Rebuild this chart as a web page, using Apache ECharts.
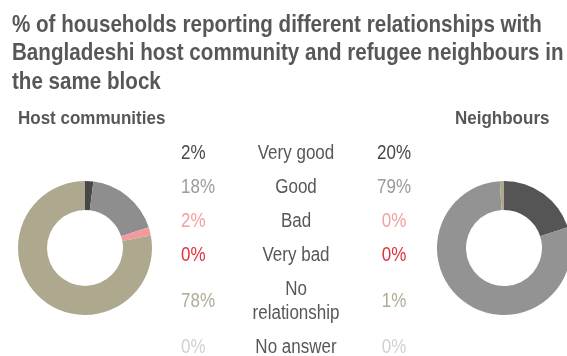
<!DOCTYPE html>
<html>
<head>
<meta charset="utf-8">
<script src="https://cdn.jsdelivr.net/npm/echarts@6/dist/echarts.min.js"></script>
<style>
html,body{margin:0;padding:0;background:#fff;}
#c{width:567px;height:356px;}
</style>
</head>
<body>
<div id="c"></div>
<script>
const titleLines = ['% of households reporting different relationships with', 'Bangladeshi host community and refugee neighbours in', 'the same block'];
const categories = ['Very good', 'Good', 'Bad', 'Very bad', 'No\nrelationship', 'No answer'];
const hostValues = [2, 18, 2, 0, 78, 0];
const neighbourValues = [20, 79, 0, 0, 1, 0];
const hostColors = ['#474747', '#8e8e8e', '#f39b9c', '#e0323c', '#aea88e', '#d2d2ce'];
const neighbourColors = ['#555555', '#939393', '#f39b9c', '#e0323c', '#aea88e', '#d2d2ce'];
const textColors = ['#474747', '#9a9a9a', '#f2a0a0', '#e0323c', '#b0ab98', '#d0d0cc'];
const rowY = [154, 188, 222, 256, 302, 348];

const chart = echarts.init(document.getElementById('c'));
const font = '"Liberation Sans", Arial, sans-serif';
const graphics = [];
const TS = 1.17, BS = 1.14;
graphics.push({type:'text', x: 12, y: 11, scaleY: TS, style:{text: titleLines.join('\n'), font: 'bold 20.6px ' + font, fill:'#575757', lineHeight: 28.5 / TS, textVerticalAlign:'top'}});
graphics.push({type:'text', x: 18, y: 119, scaleY: 1.1, style:{text:'Host communities', font:'bold 17px ' + font, fill:'#575757', textVerticalAlign:'middle'}});
graphics.push({type:'text', x: 455, y: 119, scaleY: 1.1, style:{text:'Neighbours', font:'bold 17px ' + font, fill:'#575757', textVerticalAlign:'middle'}});
categories.forEach((c, i) => {
  graphics.push({type:'text', x: 181, y: rowY[i], scaleY: BS, style:{text: hostValues[i] + '%', font:'17px ' + font, fill: textColors[i], textAlign:'left', textVerticalAlign:'middle'}});
  graphics.push({type:'text', x: 296, y: rowY[i], scaleY: BS, style:{text: c, font:'17px ' + font, fill:'#575757', textAlign:'center', textVerticalAlign:'middle', lineHeight: 24 / BS}});
  graphics.push({type:'text', x: 394, y: rowY[i], scaleY: BS, style:{text: neighbourValues[i] + '%', font:'17px ' + font, fill: textColors[i], textAlign:'center', textVerticalAlign:'middle'}});
});

function pieData(vals, cols) {
  return categories.map((c, i) => ({name: c, value: vals[i], itemStyle:{color: cols[i]}}));
}
chart.setOption({
  animation: false,
  graphic: graphics,
  series: [
    {type:'pie', radius:[38, 67], center:[85, 248], startAngle: 90, clockwise: true, label:{show:false}, labelLine:{show:false}, silent:true, data: pieData(hostValues, hostColors)},
    {type:'pie', radius:[38, 67], center:[504, 248], startAngle: 90, clockwise: true, label:{show:false}, labelLine:{show:false}, silent:true, data: pieData(neighbourValues, neighbourColors)}
  ]
});
</script>
</body>
</html>
